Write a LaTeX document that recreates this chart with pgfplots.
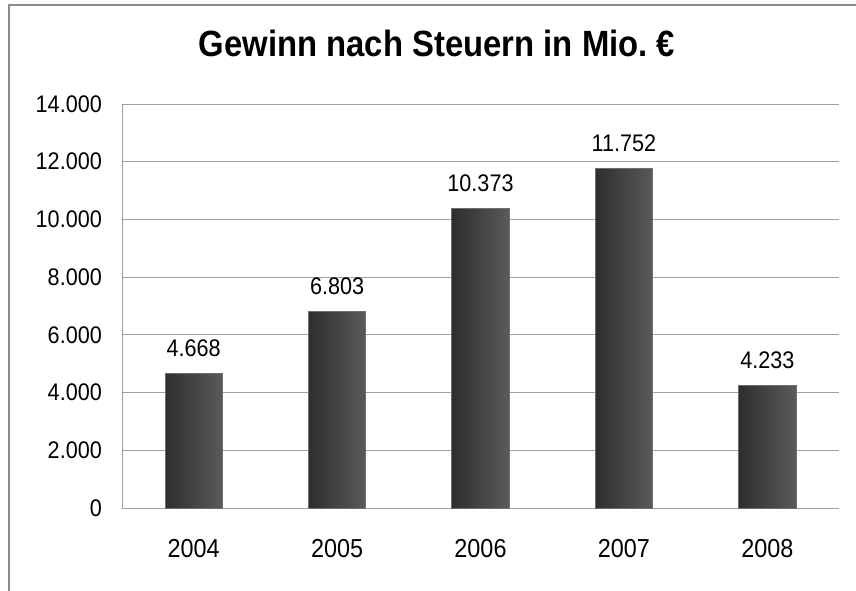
\documentclass[border=0pt]{standalone}
\usepackage{fontspec}
\setmainfont{Liberation Sans}[FakeStretch=0.9]
\usepackage{pgfplots}
\pgfplotsset{compat=1.18}
\definecolor{framegray}{HTML}{8C8C8C}
\definecolor{gridgray}{HTML}{A0A0A0}
\definecolor{barleft}{HTML}{2E2E2E}
\definecolor{barright}{HTML}{5A5A5A}
\definecolor{baredge}{HTML}{6E6E6E}
\begin{document}
\begin{tikzpicture}
\begin{axis}[
  scale only axis,
  width=717bp, height=404bp,
  xmin=-0.5, xmax=4.5,
  ymin=0, ymax=14000,
  xtick={0,1,2,3,4},
  xticklabels={2004,2005,2006,2007,2008},
  ytick={0,2000,4000,6000,8000,10000,12000,14000},
  scaled y ticks=false,
  /pgf/number format/.cd, 1000 sep={.}, assume math mode=true, /pgfplots/.cd,
  major tick length=0pt,
  axis x line*=bottom, axis y line*=left,
  axis line style={draw=gridgray, line width=0.9bp},
  ymajorgrids,
  grid style={draw=gridgray, line width=0.9bp},
  xticklabel style={anchor=north, inner sep=0pt, yshift=-31.5bp, font=\fontsize{26bp}{30bp}\selectfont},
  yticklabel style={anchor=east, inner sep=0pt, xshift=-20bp, font=\fontsize{24bp}{28bp}\selectfont},
  title={\bfseries Gewinn nach Steuern in Mio.~€},
  title style={at={(0.4393,1)}, anchor=base, inner sep=0pt, yshift=42bp, font=\fontsize{36.5bp}{42bp}\selectfont},
  nodes near coords,
  every node near coord/.style={anchor=base, inner sep=0pt, yshift=17bp, font=\fontsize{24bp}{28bp}\selectfont, black},
  clip=false,
]
\addplot[ybar, bar width=0.4, bar shift=0pt, left color=barleft, right color=barright, draw=baredge, line width=0.8bp] coordinates {(0,4668)};
\addplot[ybar, bar width=0.4, bar shift=0pt, left color=barleft, right color=barright, draw=baredge, line width=0.8bp] coordinates {(1,6803)};
\addplot[ybar, bar width=0.4, bar shift=0pt, left color=barleft, right color=barright, draw=baredge, line width=0.8bp] coordinates {(2,10373)};
\addplot[ybar, bar width=0.4, bar shift=0pt, left color=barleft, right color=barright, draw=baredge, line width=0.8bp] coordinates {(3,11752)};
\addplot[ybar, bar width=0.4, bar shift=0pt, left color=barleft, right color=barright, draw=baredge, line width=0.8bp] coordinates {(4,4233)};
\end{axis}
\draw[framegray, line width=1.6bp] (-113bp,-90bp) -- (-113bp,503bp) -- (740bp,503bp);
\pgfresetboundingbox
\useasboundingbox (-122bp,-83bp) rectangle (734bp,508bp);
\end{tikzpicture}
\end{document}
